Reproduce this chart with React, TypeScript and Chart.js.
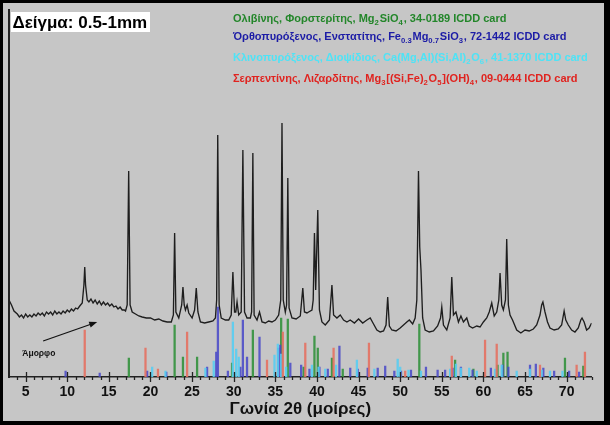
import { useEffect, useRef } from "react";
import { Chart, registerables } from "chart.js";

Chart.register(...registerables);

// ---- Measured XRD pattern (2θ in degrees, intensity in arbitrary units) ----
const twoTheta = [
  3.0, 3.3, 3.6, 4.0, 4.25, 4.5, 4.75, 5.0, 5.25, 5.5, 5.75, 6.0, 6.25, 6.5, 6.75, 7.0, 7.25, 7.5, 7.75, 8.0,
  8.25, 8.5, 8.75, 9.0, 9.25, 9.5, 9.75, 10.0, 10.25, 10.5, 10.75, 11.0, 11.25, 11.5, 11.8,
  12.0, 12.1, 12.2, 12.4, 12.6, 12.85, 13.1, 13.35, 13.6, 13.85, 14.1, 14.35, 14.6, 14.85, 15.1, 15.35, 15.6,
  15.85, 16.1, 16.35, 16.6, 16.85, 17.0, 17.2, 17.38, 17.55, 17.8,
  18.2, 18.6, 19.0, 19.5, 20.0, 20.5, 21.0, 21.5, 22.0, 22.5, 22.75, 22.9, 23.05, 23.4, 23.75, 23.9, 24.05,
  24.2, 24.4, 24.6, 25.0, 25.3, 25.5, 25.7, 26.0, 26.5, 27.0, 27.5, 27.8, 27.95, 28.08, 28.25, 28.5, 29.0,
  29.4, 29.7, 29.9, 30.1, 30.25, 30.4, 30.6, 30.9, 31.1, 31.3, 31.6, 32.0, 32.15, 32.3, 32.45, 32.8, 33.1,
  33.4, 33.8, 34.2, 34.6, 35.0, 35.4, 35.65, 35.8, 35.95, 36.2, 36.35, 36.5, 36.65, 37.0, 37.5, 38.0, 38.3,
  38.5, 38.8, 39.0, 39.4, 39.55, 39.7, 39.85, 40.1, 40.3, 40.6, 41.0, 41.5, 41.8, 42.0, 42.4, 42.8, 43.2,
  43.6, 44.0, 44.5, 45.0, 45.5, 46.0, 46.4, 46.8, 47.2, 47.6, 48.0, 48.3, 48.5, 48.7, 49.0, 49.5, 50.0,
  50.4, 50.8, 51.1, 51.5, 51.8, 52.0, 52.2, 52.35, 52.5, 52.7, 53.0, 53.5, 54.0, 54.5, 54.85, 55.0, 55.2,
  55.6, 56.0, 56.2, 56.4, 56.7, 57.0, 57.3, 57.6, 58.0, 58.3, 58.7, 59.2, 59.6, 60.0, 60.4, 60.7, 61.0,
  61.3, 61.6, 61.85, 62.0, 62.2, 62.4, 62.65, 62.8, 63.0, 63.2, 63.5, 64.0, 64.5, 65.0, 65.5, 66.0, 66.4,
  66.8, 67.0, 67.15, 67.4, 67.7, 68.0, 68.5, 69.0, 69.4, 69.7, 69.9, 70.2, 70.6, 71.0, 71.4, 71.7, 71.85,
  72.1, 72.4, 72.7, 73.0,
];
const counts = [
  77, 72, 66, 63, 60, 62, 59, 63, 60, 62, 60, 63, 61, 64, 62, 64, 61, 65, 63, 65,
  62, 66, 63, 65, 63, 66, 64, 67, 65, 68, 66, 69, 68, 71, 74,
  92, 110, 92, 77, 75, 78, 74, 77, 73, 76, 72, 75, 72, 74, 71, 73, 70,
  71, 68, 70, 67, 67, 66, 72, 206, 72, 65,
  63, 61, 60, 59, 59, 57, 58, 56, 55, 55, 62, 144, 65, 59, 72, 90, 72,
  67, 72, 64, 59, 67, 89, 65, 55, 54, 55, 56, 59, 77, 242, 72, 59, 57,
  57, 62, 105, 65, 65, 75, 62, 65, 227, 65, 59, 59, 65, 224, 62, 57, 65,
  55, 54, 56, 55, 57, 62, 77, 254, 77, 65, 72, 199, 69, 59, 58, 61, 89,
  65, 64, 65, 67, 77, 144, 87, 167, 67, 55, 52, 57, 92, 62, 59, 62, 57,
  55, 57, 54, 58, 54, 57, 59, 53, 47, 45, 46, 52, 80, 51, 47, 46, 49,
  52, 55, 57, 53, 59, 77, 206, 130, 107, 59, 47, 45, 46, 51, 59, 70, 52,
  47, 59, 100, 62, 65, 55, 61, 55, 59, 51, 49, 51, 50, 55, 59, 65, 74,
  61, 65, 77, 104, 72, 67, 77, 138, 72, 62, 57, 47, 44, 47, 46, 48, 52,
  62, 72, 75, 65, 55, 49, 47, 48, 52, 66, 57, 52, 47, 45, 49, 57, 59,
  55, 47, 49, 54,
];

// ---- Reference stick patterns (ICDD cards) ----
const olivinePos = [17.4, 22.9, 23.9, 25.6, 29.8, 32.3, 35.7, 36.5, 38.4, 39.7, 40.1, 41.8, 43.1, 52.3, 56.6, 58.8, 61.7, 62.4, 62.9, 69.8, 72.0];
const olivineInt = [19, 52, 20, 20, 14, 47, 59, 58, 10, 41, 29, 19, 8, 53, 17, 8, 12, 24, 25, 19, 11];

const enstatitePos = [9.8, 13.9, 19.6, 21.9, 26.8, 27.9, 28.1, 29.3, 30.8, 31.1, 31.6, 33.1, 35.35, 35.6, 36.8, 38.1, 39.1, 40.3, 41.3, 42.7, 44.0, 44.9, 46.1, 47.3, 48.2, 49.3, 50.1, 51.3, 53.1, 54.5, 55.4, 56.3, 57.3, 58.7, 60.9, 62.3, 63.0, 65.6, 66.3, 67.2, 68.5, 70.3, 71.5];
const enstatiteInt = [6, 4, 6, 5, 10, 25, 70, 6, 10, 57, 20, 40, 29, 32, 14, 12, 8, 10, 8, 31, 9, 8, 9, 9, 11, 6, 6, 7, 10, 7, 7, 9, 10, 7, 9, 12, 10, 12, 13, 9, 6, 6, 5];

const diopsidePos = [20.2, 21.8, 26.6, 27.6, 29.9, 30.3, 30.6, 34.9, 35.3, 35.7, 36.3, 39.4, 40.2, 41.0, 42.3, 44.8, 46.9, 49.7, 50.0, 51.0, 52.5, 56.0, 56.7, 57.3, 58.3, 59.2, 61.4, 62.2, 64.0, 65.6, 67.0, 68.0, 69.5];
const diopsideInt = [10, 6, 9, 16, 55, 28, 20, 22, 33, 23, 10, 12, 10, 8, 12, 17, 8, 18, 10, 7, 6, 8, 13, 9, 9, 6, 8, 12, 6, 8, 7, 6, 6];

const lizarditePos = [12.1, 19.4, 20.9, 24.4, 34.0, 35.9, 38.6, 42.0, 46.25, 50.6, 56.2, 60.2, 61.6, 66.8, 71.2, 72.2];
const lizarditeInt = [47, 29, 8, 45, 17, 45, 34, 29, 34, 6, 21, 37, 33, 12, 12, 25];

const xMin = 3;
const xMax = 73;
const yMax = 367;
const majorTicks = [5, 10, 15, 20, 25, 30, 35, 40, 45, 50, 55, 60, 65, 70];

const FONT = '"Liberation Sans", Arial, sans-serif';

type Seg = [string, boolean];
const legendLines: { color: string; segs: Seg[] }[] = [
  { color: "#23862a", segs: [["Ολιβίνης, Φορστερίτης, Mg", false], ["2", true], ["SiO", false], ["4", true], [", 34-0189 ICDD card", false]] },
  { color: "#1c1ca6", segs: [["Όρθοπυρόξενος, Ενστατίτης, Fe", false], ["0.3", true], ["Mg", false], ["0.7", true], ["SiO", false], ["3", true], [", 72-1442 ICDD card", false]] },
  { color: "#4ee3f6", segs: [["Κλινοπυρόξενος, Διοψίδιος, Ca(Mg,Al)(Si,Al)", false], ["2", true], ["O", false], ["6", true], [", 41-1370 ICDD card", false]] },
  { color: "#e0231f", segs: [["Σερπεντίνης, Λιζαρδίτης, Mg", false], ["3", true], ["[(Si,Fe)", false], ["2", true], ["O", false], ["5", true], ["](OH)", false], ["4", true], [", 09-0444 ICDD card", false]] },
];

// Annotation "Άμορφο" (amorphous hump) in data coordinates
const amorphLabel = { x: 4.6, y: 23 };
const amorphArrow = { x1: 7.1, y1: 36, x2: 13.6, y2: 55 };

const bgPlugin = {
  id: "bg",
  beforeDraw(chart: any) {
    const ctx = chart.ctx;
    ctx.save();
    ctx.fillStyle = "#000";
    ctx.fillRect(0, 0, chart.width, chart.height);
    ctx.fillStyle = "#c6c6c6";
    ctx.fillRect(3, 3, chart.width - 9, chart.height - 7);
    ctx.restore();
  },
};

function drawRich(ctx: CanvasRenderingContext2D, segs: Seg[], x: number, y: number, size: number, color: string) {
  let cx = x;
  ctx.fillStyle = color;
  ctx.textBaseline = "alphabetic";
  ctx.textAlign = "left";
  for (const [t, sub] of segs) {
    const s = sub ? size * 0.7 : size;
    ctx.font = `bold ${s}px ${FONT}`;
    ctx.fillText(t, cx, sub ? y + size * 0.28 : y);
    cx += ctx.measureText(t).width + (sub ? 0.8 : 0);
  }
}

const decoPlugin = {
  id: "deco",
  afterDraw(chart: any) {
    const ctx: CanvasRenderingContext2D = chart.ctx;
    const xs = chart.scales.x;
    const ys = chart.scales.y;
    const bottom = chart.chartArea.bottom;
    ctx.save();
    // tick marks
    ctx.strokeStyle = "#222";
    ctx.lineWidth = 1.3;
    for (let d = Math.ceil(xMin) + 1; d <= xMax; d++) {
      const px = Math.round(xs.getPixelForValue(d)) + 0.5;
      ctx.beginPath();
      if (d % 5 === 0) {
        ctx.moveTo(px, bottom - 5);
        ctx.lineTo(px, bottom + 5);
      } else {
        ctx.moveTo(px, bottom);
        ctx.lineTo(px, bottom + 3);
      }
      ctx.stroke();
    }
    // sample title
    ctx.fillStyle = "#fff";
    ctx.fillRect(11, 12, 139, 20);
    ctx.fillStyle = "#000";
    ctx.font = `bold 17px ${FONT}`;
    ctx.textBaseline = "alphabetic";
    ctx.textAlign = "left";
    ctx.fillText("Δείγμα: 0.5-1mm", 12.5, 27.5);
    // legend lines
    const baselines = [22, 40, 61, 82];
    legendLines.forEach((l, i) => drawRich(ctx, l.segs, 233, baselines[i], 11, l.color));
    // amorphous label + arrow
    ctx.fillStyle = "#111";
    ctx.font = `bold 8.5px ${FONT}`;
    ctx.textBaseline = "middle";
    ctx.fillText("Άμορφο", xs.getPixelForValue(amorphLabel.x), ys.getPixelForValue(amorphLabel.y));
    const ax1 = xs.getPixelForValue(amorphArrow.x1);
    const ay1 = ys.getPixelForValue(amorphArrow.y1);
    const ax2 = xs.getPixelForValue(amorphArrow.x2);
    const ay2 = ys.getPixelForValue(amorphArrow.y2);
    const ang = Math.atan2(ay2 - ay1, ax2 - ax1);
    ctx.strokeStyle = "#111";
    ctx.lineWidth = 1.2;
    ctx.beginPath();
    ctx.moveTo(ax1, ay1);
    ctx.lineTo(ax2 - 6 * Math.cos(ang), ay2 - 6 * Math.sin(ang));
    ctx.stroke();
    ctx.beginPath();
    ctx.moveTo(ax2, ay2);
    ctx.lineTo(ax2 - 8 * Math.cos(ang) + 3 * Math.sin(ang), ay2 - 8 * Math.sin(ang) - 3 * Math.cos(ang));
    ctx.lineTo(ax2 - 8 * Math.cos(ang) - 3 * Math.sin(ang), ay2 - 8 * Math.sin(ang) + 3 * Math.cos(ang));
    ctx.closePath();
    ctx.fill();
    ctx.restore();
  },
};

function sticks(label: string, pos: number[], val: number[], color: string) {
  return {
    type: "bar" as const,
    label,
    data: pos.map((x, i) => ({ x, y: val[i] })),
    backgroundColor: color,
    borderWidth: 0,
    barThickness: 1.6,
    grouped: false,
    order: 1,
  };
}

export default function App() {
  const ref = useRef<HTMLCanvasElement>(null);
  useEffect(() => {
    document.body.style.margin = "0";
    const canvas = ref.current!;
    const chart = new Chart(canvas, {
      type: "bar",
      data: {
        datasets: [
          {
            type: "line",
            label: "Δείγμα 0.5-1mm",
            data: twoTheta.map((x, i) => ({ x, y: counts[i] })),
            borderColor: "#1e1e1e",
            borderWidth: 1.35,
            pointRadius: 0,
            tension: 0,
            order: 0,
          } as any,
          sticks("Λιζαρδίτης", lizarditePos, lizarditeInt, "rgba(228,112,96,0.9)"),
          sticks("Διοψίδιος", diopsidePos, diopsideInt, "rgba(86,205,242,0.9)"),
          sticks("Ενστατίτης", enstatitePos, enstatiteInt, "rgba(70,70,200,0.85)"),
          sticks("Φορστερίτης", olivinePos, olivineInt, "rgba(50,145,60,0.9)"),
        ],
      },
      options: {
        responsive: false,
        animation: false,
        layout: { padding: { left: 9, top: 10, right: 18.4, bottom: 0 } },
        plugins: { legend: { display: false }, tooltip: { enabled: false } },
        scales: {
          x: {
            type: "linear",
            min: xMin,
            max: xMax,
            offset: false,
            grid: { display: false, drawTicks: false },
            border: { display: true, color: "#222", width: 1.5 },
            ticks: {
              color: "#111",
              font: { family: FONT, size: 14, weight: "bold" },
              padding: 7,
              maxRotation: 0,
              autoSkip: false,
              callback: (v: any) => String(v),
            },
            afterBuildTicks: (s: any) => {
              s.ticks = majorTicks.map((v) => ({ value: v }));
            },
            afterFit: (s: any) => {
              s.height = 48;
            },
            title: {
              display: true,
              text: "Γωνία 2θ (μοίρες)",
              color: "#111",
              font: { family: FONT, size: 17, weight: "bold" },
              padding: { top: 0, bottom: 5 },
            },
          },
          y: {
            min: 0,
            max: yMax,
            display: true,
            grid: { display: false, drawTicks: false },
            ticks: { display: false },
            border: { display: true, color: "#222", width: 2 },
            afterFit: (s: any) => {
              s.width = 0;
            },
          },
        },
      } as any,
      plugins: [bgPlugin, decoPlugin],
    });
    return () => chart.destroy();
  }, []);
  return <canvas ref={ref} width={610} height={425} style={{ display: "block" }} />;
}
